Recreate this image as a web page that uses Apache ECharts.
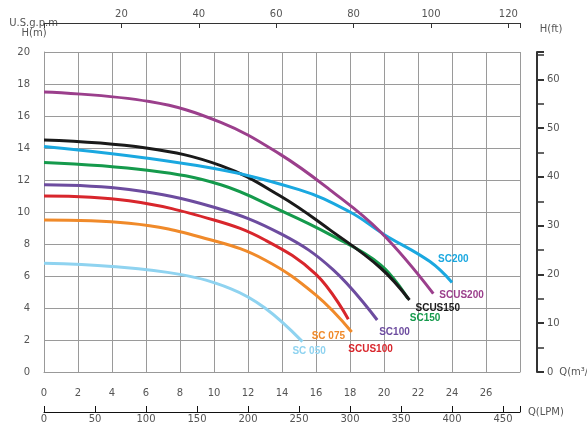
<!DOCTYPE html>
<html><head><meta charset="utf-8">
<script src="https://cdn.jsdelivr.net/npm/echarts@6/dist/echarts.min.js"></script>
<style>body{margin:0}#c{width:587px;height:442px}</style></head>
<body><div id="c"></div>
<script>
// pump curves: [Q m3/h, H m]
var sc050 = [[0,6.8],[4,6.6],[8,6.1],[11,5.2],[13,4.0],[15.2,1.9]];
var sc075 = [[0,9.5],[5,9.3],[10,8.2],[13,7.0],[16,4.8],[18.1,2.5]];
var scus100 = [[0,11.0],[5,10.7],[10,9.5],[13,8.25],[16,6.1],[17.9,3.3]];
var sc100 = [[0,11.7],[5,11.4],[10,10.3],[14,8.6],[17,6.4],[19.6,3.25]];
var sc150 = [[0,13.1],[6.2,12.6],[10.4,11.7],[13.9,10.1],[16.8,8.6],[19.8,6.7],[21.4,4.6]];
var scus150 = [[0,14.5],[6,14.0],[10.4,12.9],[13.9,11.0],[16.8,8.9],[19.8,6.5],[21.5,4.5]];
var sc200 = [[0,14.1],[9,12.9],[15,11.4],[18,10.0],[20,8.6],[22.7,6.9],[24,5.6]];
var scus200 = [[0,17.5],[6.2,16.9],[10.4,15.6],[13.9,13.6],[16.8,11.4],[19.8,8.75],[22.9,4.9]];

var curves = [
  {name:'SC 050', data:sc050, color:'#8fd3f0', off:[-18,10]},
  {name:'SC 075', data:sc075, color:'#f08a2a', off:[-48,4]},
  {name:'SCUS100', data:scus100, color:'#d8262c', off:[-8,30]},
  {name:'SC100', data:sc100, color:'#6d4c9f', off:[-6,12]},
  {name:'SC150', data:sc150, color:'#159a4c', off:[-6,20]},
  {name:'SCUS150', data:scus150, color:'#1a1a1a', off:[-2,8]},
  {name:'SC200', data:sc200, color:'#1aa8e0', off:[-22,-23]},
  {name:'SCUS200', data:scus200, color:'#9b3f8c', off:[-2,2]}
];

var gridLine = {show:true, lineStyle:{color:'#9a9a9a', width:1}};
var txt = {color:'#555', fontSize:10, fontFamily:'DejaVu Sans'};

var chart = echarts.init(document.getElementById('c'));
chart.setOption({
  animation:false,
  grid:{left:44, right:67, top:52, bottom:70, outerBoundsMode:'none'},
  xAxis:[
    {type:'value', min:0, max:28, interval:2, position:'bottom',
     axisLine:{onZero:false, lineStyle:{color:'#999'}}, axisTick:{show:false}, splitLine:gridLine,
     axisLabel:Object.assign({margin:16, formatter:function(v){return v==28?'':v;}}, txt),
     name:'Q(m³/h)', nameGap:8, nameTextStyle:Object.assign({padding:[30,0,0,0]}, txt)},
    {type:'value', min:0, max:123, interval:20, position:'top', offset:29,
     axisLine:{show:true, onZero:false, lineStyle:{color:'#333'}}, axisTick:{show:true, inside:true, length:5, lineStyle:{color:'#333'}},
     splitLine:{show:false}, axisLabel:Object.assign({margin:4, formatter:function(v){return (v>120||v==0)?'':v;}}, txt),
     name:'U.S.g.p.m', nameLocation:'start', nameGap:-14, nameTextStyle:Object.assign({padding:[0,0,12,0]}, txt)},
    {type:'value', min:0, max:466.7, interval:50, position:'bottom', offset:40,
     axisLine:{show:true, onZero:false, lineStyle:{color:'#111'}}, axisTick:{show:true, inside:true, length:6, lineStyle:{color:'#111'}},
     splitLine:{show:false}, axisLabel:Object.assign({margin:2, formatter:function(v){return v>450?'':v;}}, txt),
     name:'Q(LPM)', nameGap:8, nameTextStyle:Object.assign({padding:[12,0,0,0]}, txt)}
  ],
  yAxis:[
    {type:'value', min:0, max:20, interval:2, position:'left',
     axisLine:{show:true, onZero:false, lineStyle:{color:'#999'}}, axisTick:{show:false}, splitLine:gridLine,
     axisLabel:Object.assign({margin:14}, txt),
     name:'H(m)', nameGap:14, nameTextStyle:Object.assign({padding:[0,20,0,0]}, txt)},
    {type:'value', min:0, max:65.6, interval:10, position:'right', offset:17,
     axisLine:{show:true, onZero:false, lineStyle:{color:'#333', width:2}}, axisTick:{show:true, inside:false, length:7, lineStyle:{color:'#333', width:2}},
     minorTick:{show:true, splitNumber:2, length:7, lineStyle:{color:'#333', width:1.5}},
     splitLine:{show:false}, axisLabel:Object.assign({margin:10, formatter:function(v){return v>60?'':v;}}, txt),
     name:'H(ft)', nameGap:18, nameTextStyle:Object.assign({padding:[0,0,0,28]}, txt)}
  ],
  series: curves.map(function(c){
    return {type:'line', name:c.name, data:c.data, smooth:0.4, showSymbol:false,
      xAxisIndex:0, yAxisIndex:0,
      lineStyle:{color:c.color, width:3},
      endLabel:{show:true, formatter:c.name, color:c.color, fontSize:10, fontWeight:'bold',
        fontFamily:'Liberation Sans', offset:c.off}};
  })
});
</script></body></html>
